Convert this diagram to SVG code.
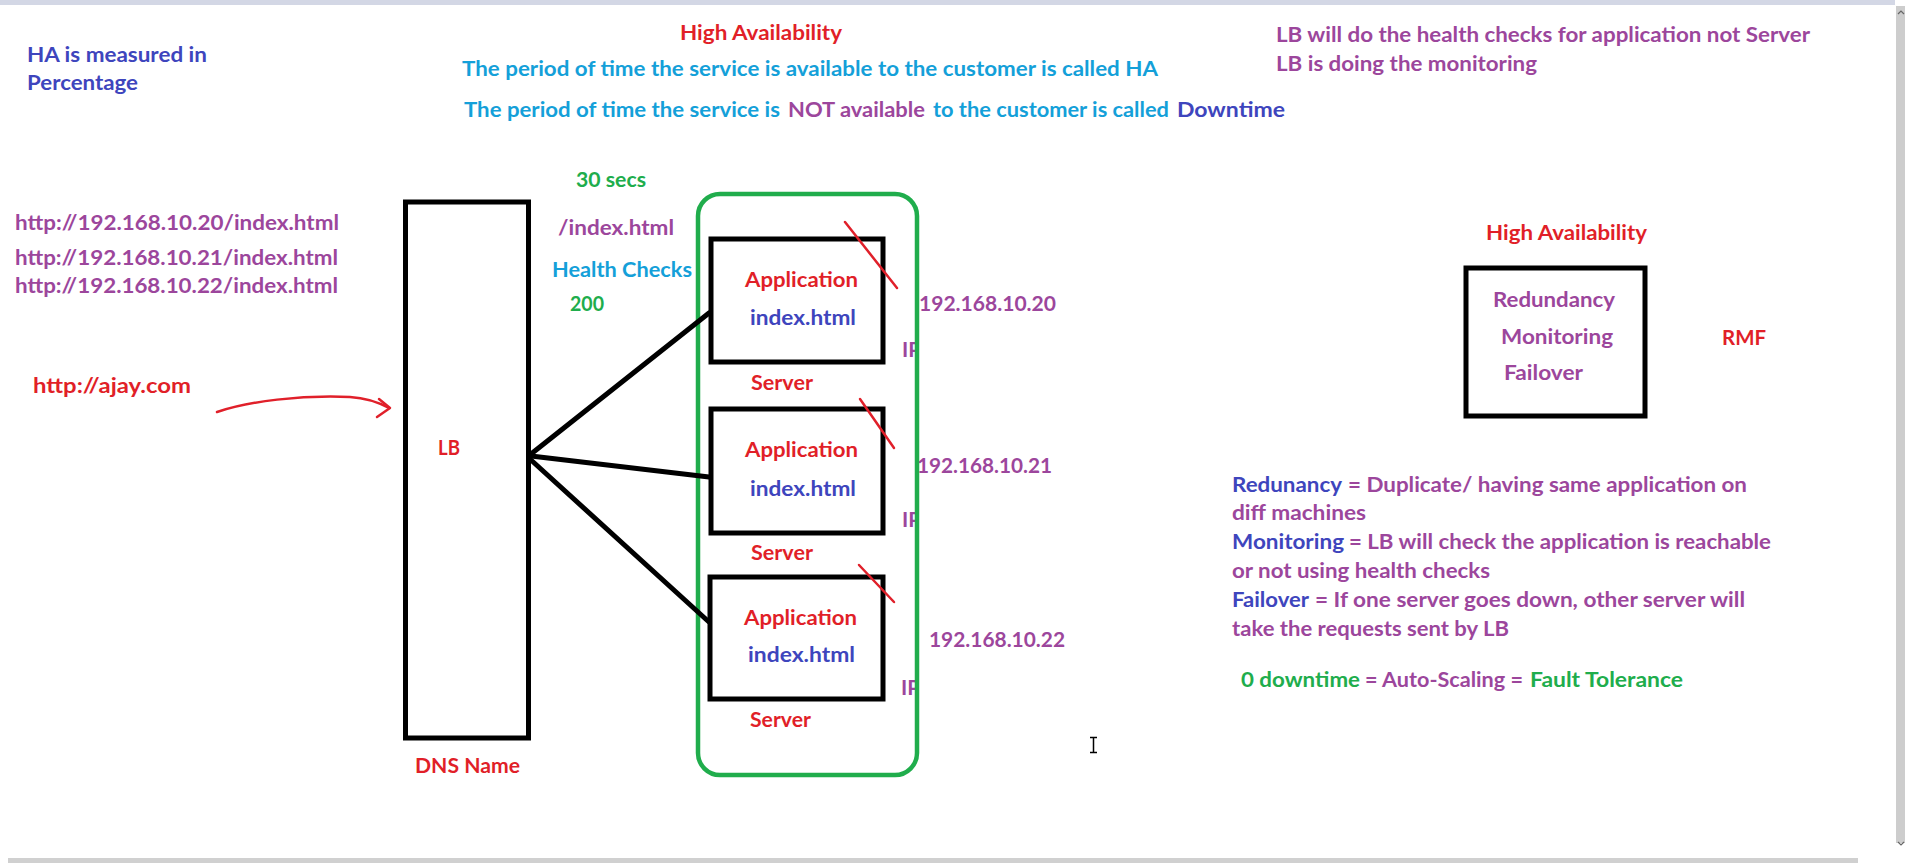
<svg xmlns="http://www.w3.org/2000/svg" width="1905" height="863" viewBox="0 0 1905 863">
<style>
text{font-family:Lato,"Open Sans","Liberation Sans",sans-serif;font-weight:700;font-size:21px}
.r{fill:#e11f28}.p{fill:#9c469c}.i{fill:#3e45bd}.c{fill:#14a0d9}.g{fill:#20ad4c}
.box{fill:none;stroke:#000;stroke-width:5}
.slash{stroke:#e0202a;stroke-width:2.5;fill:none;stroke-linecap:round}
.conn{stroke:#000;stroke-width:5;fill:none;stroke-linecap:round}
</style>
<defs>
<clipPath id="ipclip"><rect x="880" y="0" width="35" height="863"/></clipPath>
</defs>
<rect width="1905" height="863" fill="#fff"/>
<g id="chrome">
<rect x="0" y="0" width="1895" height="5" fill="#d3d7e5"/>
<rect x="1896" y="6" width="9" height="837" fill="#cdcdcd"/>
<path d="M1898,14 l3,-3 l3,3" stroke="#666" stroke-width="1.2" fill="none"/>
<path d="M1898,842 l3,3 l3,-3" stroke="#666" stroke-width="1.2" fill="none"/>
<rect x="8" y="858" width="1850" height="5" fill="#d0d0d0"/>
<path d="M1090,737.5 H1097 M1093.5,737.5 V752.5 M1090,752.5 H1097" stroke="#000" stroke-width="1.5" fill="none"/>
</g>
<g id="notes-top">
<text x="27" y="62" class="i" textLength="180" lengthAdjust="spacingAndGlyphs">HA is measured in</text>
<text x="27" y="90" class="i" textLength="111" lengthAdjust="spacingAndGlyphs">Percentage</text>
<text x="680" y="40" class="r" textLength="162" lengthAdjust="spacingAndGlyphs">High Availability</text>
<text x="462" y="76" class="c" textLength="696" lengthAdjust="spacingAndGlyphs">The period of time the service is available to the customer is called HA</text>
<text x="464" y="117" class="c" textLength="316" lengthAdjust="spacingAndGlyphs">The period of time the service is</text>
<text x="788" y="117" class="p" textLength="137" lengthAdjust="spacingAndGlyphs">NOT available</text>
<text x="933" y="117" class="c" textLength="236" lengthAdjust="spacingAndGlyphs">to the customer is called</text>
<text x="1177" y="117" class="i" textLength="108" lengthAdjust="spacingAndGlyphs">Downtime</text>
<text x="1276" y="42" class="p" textLength="534" lengthAdjust="spacingAndGlyphs">LB will do the health checks for application not Server</text>
<text x="1276" y="71" class="p" textLength="261" lengthAdjust="spacingAndGlyphs">LB is doing the monitoring</text>
</g>
<g id="urls">
<text x="15" y="230" class="p" textLength="324" lengthAdjust="spacingAndGlyphs">http://192.168.10.20/index.html</text>
<text x="15" y="265" class="p" textLength="323" lengthAdjust="spacingAndGlyphs">http://192.168.10.21/index.html</text>
<text x="15" y="293" class="p" textLength="323" lengthAdjust="spacingAndGlyphs">http://192.168.10.22/index.html</text>
<text x="33" y="393" class="r" textLength="158" lengthAdjust="spacingAndGlyphs">http://ajay.com</text>
</g>
<g id="health-check">
<text x="576" y="187" class="g" textLength="70" lengthAdjust="spacingAndGlyphs">30 secs</text>
<text x="558" y="235" class="p" textLength="116" lengthAdjust="spacingAndGlyphs">/index.html</text>
<text x="552" y="277" class="c" textLength="140" lengthAdjust="spacingAndGlyphs">Health Checks</text>
<text x="570" y="311" class="g" textLength="34" lengthAdjust="spacingAndGlyphs">200</text>
</g>
<g id="lb">
<rect x="405.5" y="202" width="123" height="536" class="box"/>
<text x="438" y="455" class="r" textLength="22" lengthAdjust="spacingAndGlyphs">LB</text>
<text x="415" y="773" class="r" textLength="105" lengthAdjust="spacingAndGlyphs">DNS Name</text>
</g>
<g id="ip-labels">
<g clip-path="url(#ipclip)">
<text x="902" y="357" class="p">IP</text>
<text x="902" y="527" class="p">IP</text>
<text x="901" y="695" class="p">IP</text>
</g>
<text x="919" y="311" class="p" textLength="137" lengthAdjust="spacingAndGlyphs">192.168.10.20</text>
<text x="917" y="473" class="p" textLength="135" lengthAdjust="spacingAndGlyphs">192.168.10.21</text>
<text x="929" y="647" class="p" textLength="136" lengthAdjust="spacingAndGlyphs">192.168.10.22</text>
</g>
<g id="server-group">
<rect x="698" y="194" width="219" height="581" rx="22" fill="none" stroke="#20ad4c" stroke-width="4.5"/>
</g>
<g id="server1">
<rect x="711" y="239" width="172" height="123" class="box"/>
<text x="745" y="287" class="r" textLength="113" lengthAdjust="spacingAndGlyphs">Application</text>
<text x="750" y="325" class="i" textLength="106" lengthAdjust="spacingAndGlyphs">index.html</text>
<text x="751" y="390" class="r" textLength="62" lengthAdjust="spacingAndGlyphs">Server</text>
<path d="M845,222 L897,288" class="slash"/>
</g>
<g id="server2">
<rect x="711" y="409" width="172" height="124" class="box"/>
<text x="745" y="457" class="r" textLength="113" lengthAdjust="spacingAndGlyphs">Application</text>
<text x="750" y="496" class="i" textLength="106" lengthAdjust="spacingAndGlyphs">index.html</text>
<text x="751" y="560" class="r" textLength="62" lengthAdjust="spacingAndGlyphs">Server</text>
<path d="M860,399 L894,448" class="slash"/>
</g>
<g id="server3">
<rect x="710" y="577" width="173" height="122" class="box"/>
<text x="744" y="625" class="r" textLength="113" lengthAdjust="spacingAndGlyphs">Application</text>
<text x="748" y="662" class="i" textLength="107" lengthAdjust="spacingAndGlyphs">index.html</text>
<text x="750" y="727" class="r" textLength="61" lengthAdjust="spacingAndGlyphs">Server</text>
<path d="M859,565 L894,602" class="slash"/>
</g>
<g id="connectors">
<path d="M531,454 L709,313" class="conn"/>
<path d="M531,456 L709,477" class="conn"/>
<path d="M531,460 L709,622" class="conn"/>
<path d="M217,412 C250,401 300,395 350,397 C366,398 378,402 389,408" stroke="#e0202a" stroke-width="2.5" fill="none" stroke-linecap="round"/>
<path d="M379,399 L390,408 L377,417" stroke="#e0202a" stroke-width="2.5" fill="none" stroke-linecap="round" stroke-linejoin="round"/>
</g>
<g id="ha-box">
<text x="1486" y="240" class="r" textLength="161" lengthAdjust="spacingAndGlyphs">High Availability</text>
<rect x="1466" y="268" width="179" height="148" class="box"/>
<text x="1493" y="307" class="p" textLength="122" lengthAdjust="spacingAndGlyphs">Redundancy</text>
<text x="1501" y="344" class="p" textLength="112" lengthAdjust="spacingAndGlyphs">Monitoring</text>
<text x="1504" y="380" class="p" textLength="79" lengthAdjust="spacingAndGlyphs">Failover</text>
<text x="1722" y="345" class="r" textLength="44" lengthAdjust="spacingAndGlyphs">RMF</text>
</g>
<g id="definitions">
<text x="1232" y="492" class="i" textLength="110" lengthAdjust="spacingAndGlyphs">Redunancy</text>
<text x="1348" y="492" class="p" textLength="399" lengthAdjust="spacingAndGlyphs">= Duplicate/ having same application on</text>
<text x="1232" y="520" class="p" textLength="134" lengthAdjust="spacingAndGlyphs">diff machines</text>
<text x="1232" y="549" class="i" textLength="112" lengthAdjust="spacingAndGlyphs">Monitoring</text>
<text x="1349" y="549" class="p" textLength="422" lengthAdjust="spacingAndGlyphs">= LB will check the application is reachable</text>
<text x="1232" y="578" class="p" textLength="258" lengthAdjust="spacingAndGlyphs">or not using health checks</text>
<text x="1232" y="607" class="i" textLength="77" lengthAdjust="spacingAndGlyphs">Failover</text>
<text x="1315" y="607" class="p" textLength="430" lengthAdjust="spacingAndGlyphs">= If one server goes down, other server will</text>
<text x="1232" y="636" class="p" textLength="277" lengthAdjust="spacingAndGlyphs">take the requests sent by LB</text>
<text x="1241" y="687" class="g" textLength="119" lengthAdjust="spacingAndGlyphs">0 downtime</text>
<text x="1365" y="687" class="p" textLength="158" lengthAdjust="spacingAndGlyphs">= Auto-Scaling =</text>
<text x="1530" y="687" class="g" textLength="153" lengthAdjust="spacingAndGlyphs">Fault Tolerance</text>
</g>
</svg>
